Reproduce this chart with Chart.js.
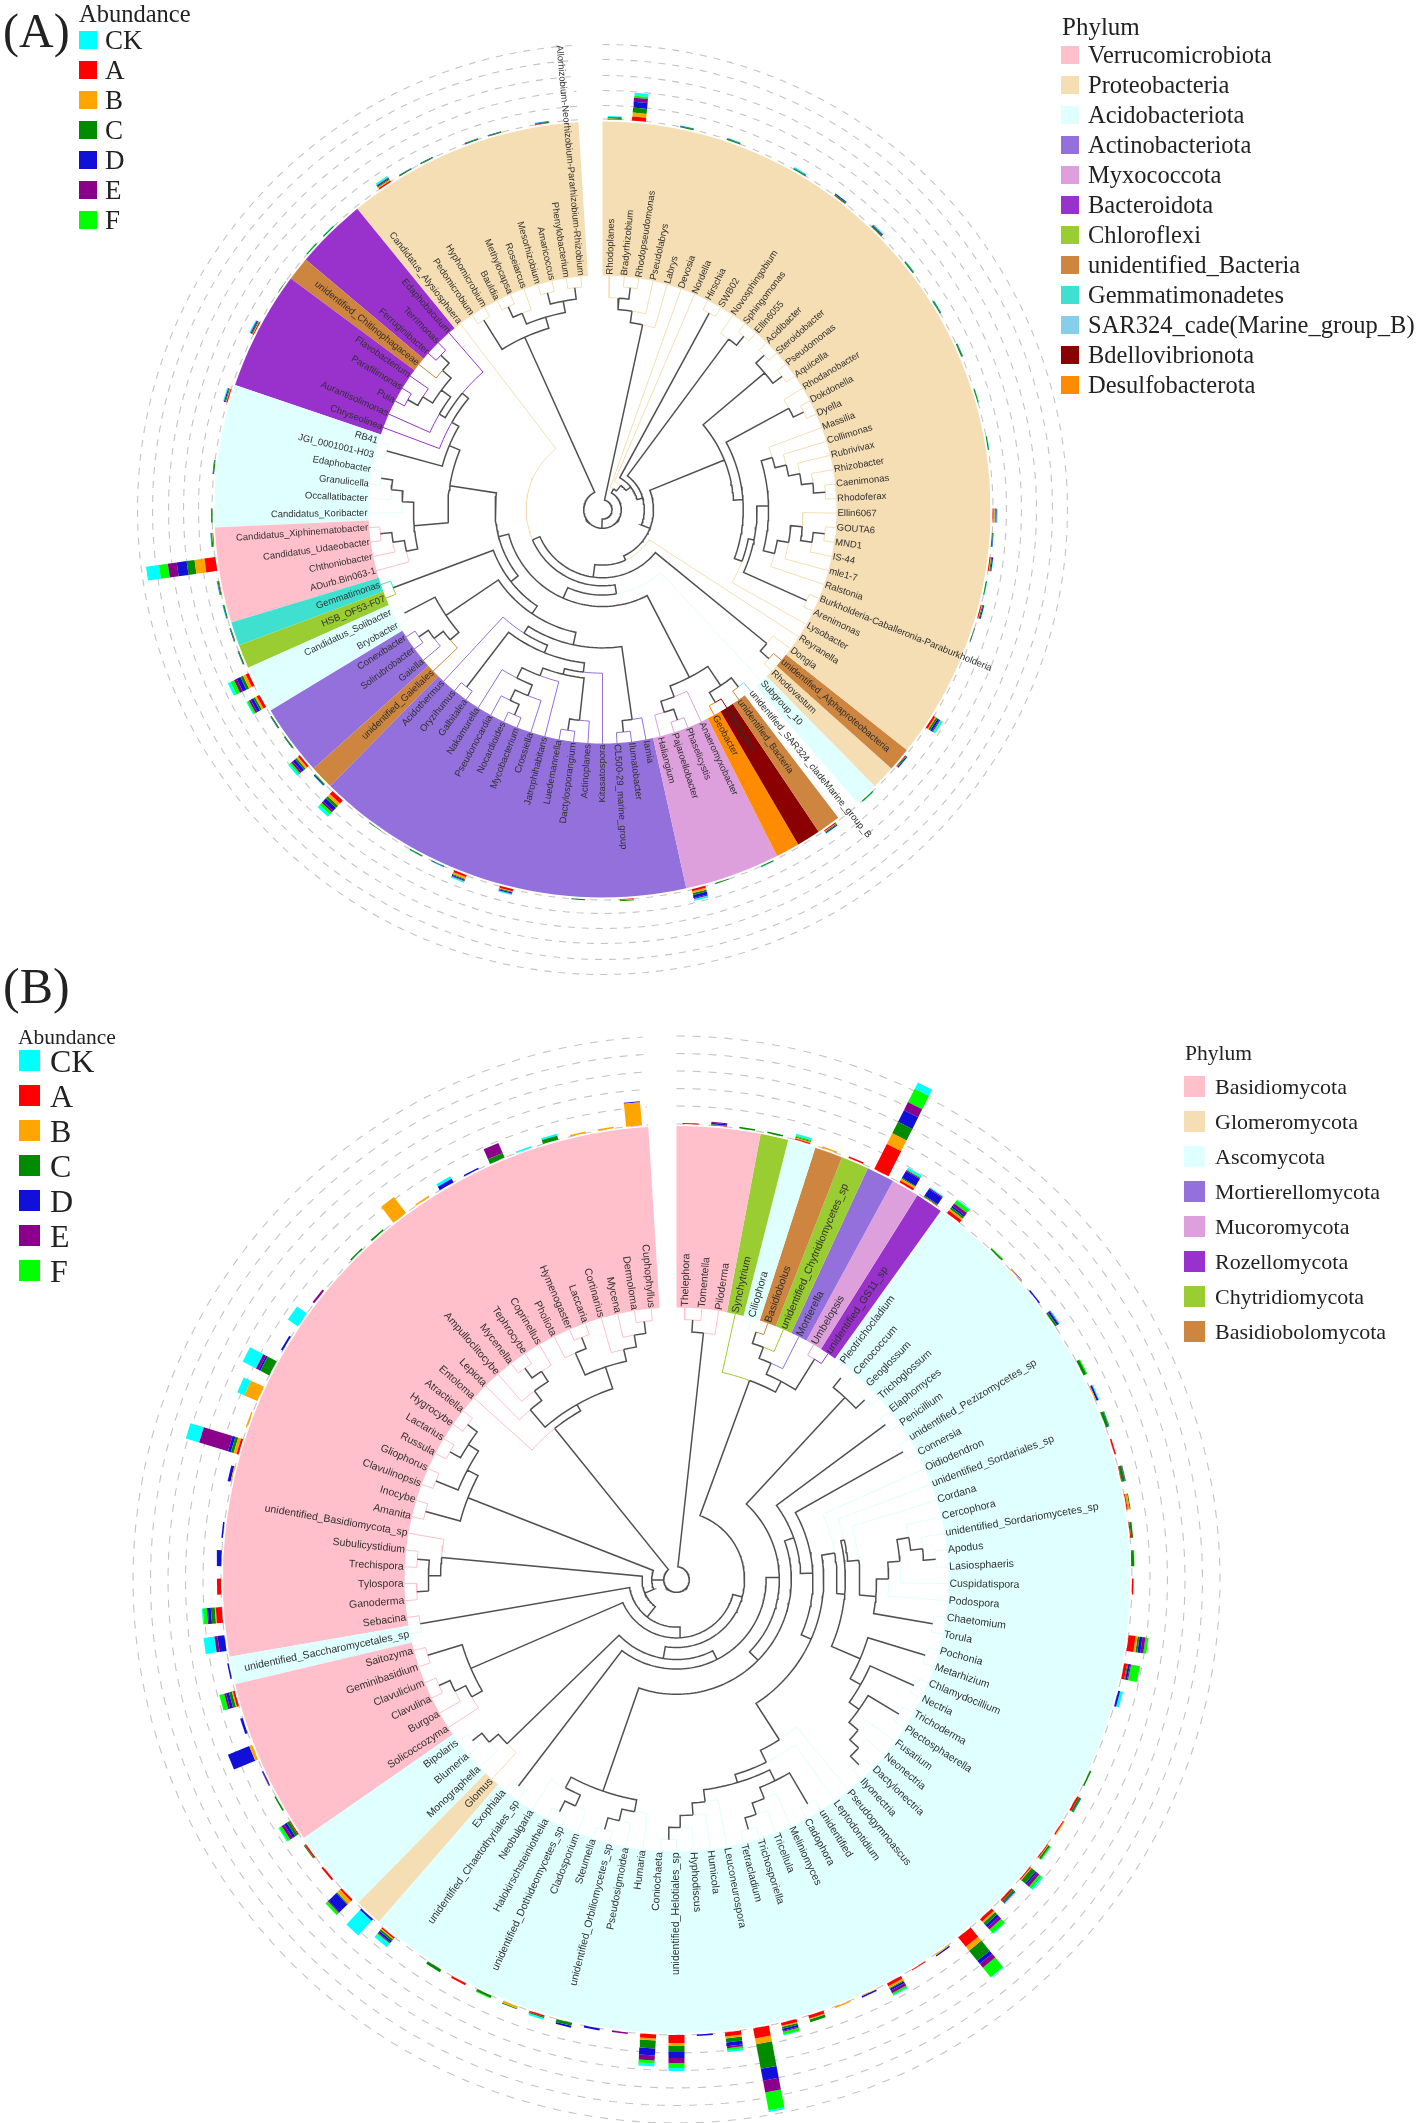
<!DOCTYPE html>
<html>
<head>
<meta charset="utf-8">
<title>Circular phylogenetic trees</title>
<script src="https://cdn.jsdelivr.net/npm/chart.js@4/dist/chart.umd.min.js"></script>
<style>
    body { margin: 0; background: #fff; width: 1418px; height: 2123px; position: relative; overflow: hidden; }
    canvas { position: absolute; left: 0; filter: blur(0.4px); }
    .txt { position: absolute; font-family: "Liberation Serif", serif; color: #222; white-space: nowrap; line-height: 1; }
    .box { position: absolute; }
</style>
</head>
<body>
<canvas id="chartA" width="1418" height="1020" style="top:0"></canvas>
<canvas id="chartB" width="1418" height="1103" style="top:1020px"></canvas>
<script>
const treatments = ['CK', 'A', 'B', 'C', 'D', 'E', 'F'];
const treatmentColors = ['#00ffff', '#ff0000', '#ffa500', '#008b00', '#1010d8', '#8b008b', '#00ff00'];
// bars stack outward in this order, rows below are [leaf, A, B, C, D, E, F, CK]
const stackOrder = [1, 2, 3, 4, 5, 6, 0];

const aPhylumNames = ['Verrucomicrobiota', 'Proteobacteria', 'Acidobacteriota', 'Actinobacteriota', 'Myxococcota', 'Bacteroidota',
    'Chloroflexi', 'unidentified_Bacteria', 'Gemmatimonadetes', 'SAR324_cade(Marine_group_B)', 'Bdellovibrionota', 'Desulfobacterota'];
const aPhylumColors = ['#ffc0cb', '#f5deb3', '#e0ffff', '#9370db', '#dda0dd', '#9932cc', '#9acd32', '#cd853f', '#40e0d0', '#87ceeb', '#8b0000', '#ff8c00'];
const bPhylumNames = ['Basidiomycota', 'Glomeromycota', 'Ascomycota', 'Mortierellomycota', 'Mucoromycota', 'Rozellomycota', 'Chytridiomycota', 'Basidiobolomycota'];
const bPhylumColors = ['#ffc0cb', '#f5deb3', '#e0ffff', '#9370db', '#dda0dd', '#9932cc', '#9acd32', '#cd853f'];

const aLeaves = ['Rhodoplanes', 'Bradyrhizobium', 'Rhodopseudomonas', 'Pseudolabrys', 'Labrys', 'Devosia', 'Nordella', 'Hirschia', 'SWB02',
    'Novosphingobium', 'Sphingomonas', 'Ellin6055', 'Acidibacter', 'Steroidobacter', 'Pseudomonas', 'Aquicella', 'Rhodanobacter', 'Dokdonella',
    'Dyella', 'Massilia', 'Collimonas', 'Rubrivivax', 'Rhizobacter', 'Caenimonas', 'Rhodoferax', 'Ellin6067', 'GOUTA6', 'MND1', 'IS-44', 'mle1-7',
    'Ralstonia', 'Burkholderia-Caballeronia-Paraburkholderia', 'Arenimonas', 'Lysobacter', 'Reyranella', 'Dongia', 'unidentified_Alphaproteobacteria',
    'Rhodovastum', 'Subgroup_10', 'unidentified_SAR324_cladeMarine_group_B', 'unidentified_Bacteria', 'Bdellovibrio', 'Geobacter', 'Anaeromyxobacter',
    'Phaselicystis', 'Pajaroellobacter', 'Haliangium', 'Iamia', 'Ilumatobacter', 'CL500-29_marine_group', 'Kitasatospora', 'Actinoplanes',
    'Dactylosporangium', 'Luedemannella', 'Jatrophihabitans', 'Crossiella', 'Mycobacterium', 'Nocardioides', 'Pseudonocardia', 'Nakamurella',
    'Galbitalea', 'Oryzihumus', 'Acidothermus', 'unidentified_Gaiellales', 'Gaiella', 'Solirubrobacter', 'Conexibacter', 'Bryobacter',
    'Candidatus_Solibacter', 'HSB_OF53-F07', 'Gemmatimonas', 'ADurb.Bin063-1', 'Chthoniobacter', 'Candidatus_Udaeobacter',
    'Candidatus_Xiphinematobacter', 'Candidatus_Koribacter', 'Occallatibacter', 'Granulicella', 'Edaphobacter', 'JGI_0001001-H03', 'RB41',
    'Chryseolinea', 'Aurantisolimonas', 'Puia', 'Parafilimonas', 'Flavobacterium', 'unidentified_Chitinophagaceae', 'Ferruginibacter', 'Terrimonas',
    'Edaphobaculum', 'Candidatus_Alysiosphaera', 'Pedomicrobium', 'Hyphomicrobium', 'Bauldia', 'Methylocapsa', 'Roseiarcus', 'Mesorhizobium',
    'Amaricoccus', 'Phenylobacterium', 'Allorhizobium-Neorhizobium-Pararhizobium-Rhizobium'];
// [number of leaves, phylum index] going clockwise from the top
const aRuns = [[36, 1], [1, 7], [1, 1], [1, 2], [1, 9], [1, 7], [1, 10], [1, 11], [4, 4], [16, 3], [1, 7], [3, 3], [2, 2], [1, 6], [1, 8], [4, 0], [6, 2], [5, 5], [1, 7], [3, 5], [10, 1]];
const aBars = [[1, .5, .5, 1, .5, 0, 0, 1], [2, 4, 4, 5, 6, 4, 2, 3], [4, 0, 0, 1, .5, 0, 0, .5], [6, 0, 0, 1, .5, 0, 0, .5], [9, 0, 0, 1, .5, 0, 0, 1],
    [11, .5, 0, 1, 1, 0, 0, .5], [13, .5, 0, 1, 1, 0, 0, 1], [15, 0, 0, 1, .5, 0, 0, .5], [17, 0, 0, 1, .5, 0, 0, .5], [19, 0, 0, 1, .5, 0, 0, .5],
    [21, 0, 0, 1, 0, 0, 0, .5], [23, 0, 0, 1, 0, 0, 0, .5], [26, 1, 1, 1, 1, 0, 0, 1], [27, 0, 0, 1, .5, 0, 0, .5], [28, 1, .5, 1, 1, 0, 0, .5],
    [29, 0, 0, 1, 0, 0, 0, .5], [30, 1, .5, 1, 1, 0, 0, .5], [31, 0, 0, .5, .5, 0, 0, 0], [35, 2, 1, 2, 2, 1, 1, 2], [37, .5, 0, 1, 1, 0, 0, .5],
    [39, 0, 0, 1, 0, 0, 0, .5], [41, 1, .5, 1, 1, 0, 0, .5], [44, 0, 0, 1, 0, 0, 0, .5], [46, 0, 0, 1, 0, 0, 0, 0], [47, 2, 2, 2, 3, 1, 0, 2],
    [50, .5, .5, 1, 0, 0, 0, 0], [52, 0, 0, 1, 0, 0, 0, 0], [55, 2, .5, 1, 1, .5, 0, 1], [57, 2, 2, 1, 1, .5, .5, 1], [58, 0, 0, .5, .5, 0, 0, .5],
    [59, 0, 0, 1, 0, 0, 0, .5], [61, 0, 0, .5, 0, 0, 0, 0], [63, 4, 3, 3, 4, 2, 3, 3], [64, 0, .5, 1, 1, 0, 0, .5], [65, 2, 2, 2, 3, 2, 2, 2],
    [66, 0, 0, 1, .5, 0, 0, 0], [67, 0, 0, 1, .5, 0, 0, 0], [68, 3, 2, 2, 3, 2, 2, 1], [69, 3, 3, 3, 4, 3, 4, 3], [70, 0, 0, 1, .5, 0, 0, 0],
    [71, 0, 0, 1, .5, 0, 0, 0], [72, 0, 0, 1, .5, 0, 0, .5], [73, .5, 0, 1, .5, 0, 0, .5], [74, 11, 10, 8, 10, 9, 9, 13], [75, .5, .5, 1, .5, 0, 0, .5],
    [76, 0, 0, 1, .5, 0, 0, 0], [78, 0, 0, 1, .5, 0, 0, 0], [81, 1, .5, 1, 1, 0, 0, 1], [84, 1, .5, 1, 1, .5, 0, 1], [86, 0, 0, .5, 0, 0, 0, 0],
    [88, 0, 0, 1, 0, 0, 0, .5], [89, 0, 0, 1, 0, 0, 0, .5], [92, 1.5, 1, 1, 1, .5, .5, 1.5], [93, 0, 0, 1, .5, 0, 0, 0], [94, 0, 0, 1, .5, 0, 0, 0],
    [96, 0, 0, 1, .5, 0, 0, 0], [97, 0, 0, 1, .5, 0, 0, 0], [99, .5, 0, 1, .5, 0, 0, .5]];

const bLeaves = ['Thelephora', 'Tomentella', 'Piloderma', 'Synchytrium', 'Ciliophora', 'Basidiobolus', 'unidentified_Chytridiomycetes_sp', 'Mortierella',
    'Umbelopsis', 'unidentified_GS11_sp', 'Pleotrichocladium', 'Cenococcum', 'Geoglossum', 'Trichoglossum', 'Elaphomyces', 'Penicillium',
    'unidentified_Pezizomycetes_sp', 'Connersia', 'Oidiodendron', 'unidentified_Sordariales_sp', 'Cordana', 'Cercophora', 'unidentified_Sordariomycetes_sp',
    'Apodus', 'Lasiosphaeris', 'Cuspidatispora', 'Podospora', 'Chaetomium', 'Torula', 'Pochonia', 'Metarhizium', 'Chlamydocillium', 'Nectria', 'Trichoderma',
    'Plectosphaerella', 'Fusarium', 'Neonectria', 'Dactylonectria', 'Ilyonectria', 'Pseudogymnoascus', 'Leptodontidium', 'unidentified', 'Cadophora',
    'Meliniomyces', 'Tricellula', 'Trichosporiella', 'Tetracladium', 'Leuconeurospora', 'Humicola', 'Hyphodiscus', 'unidentified_Helotiales_sp', 'Coniochaeta',
    'Humaria', 'Pseudosigmoidea', 'unidentified_Orbiliomycetes_sp', 'Steumella', 'Cladosporium', 'unidentified_Dothideomycetes_sp', 'Halokirschsteiniothelia',
    'Neobulgaria', 'unidentified_Chaetothyriales_sp', 'Exophiala', 'Glomus', 'Monographella', 'Blumeria', 'Bipolaris', 'Solicoccozyma', 'Burgoa', 'Clavulina',
    'Clavulicium', 'Geminibasidium', 'Saitozyma', 'unidentified_Saccharomycetales_sp', 'Sebacina', 'Ganoderma', 'Tylospora', 'Trechispora', 'Subulicystidium',
    'unidentified_Basidiomycota_sp', 'Amanita', 'Inocybe', 'Clavulinopsis', 'Gliophorus', 'Russula', 'Lactarius', 'Hygrocybe', 'Atractiella', 'Entoloma', 'Lepiota',
    'Ampulloclitocybe', 'Mycenella', 'Tephrocybe', 'Coprinellus', 'Pholiota', 'Hymenogaster', 'Laccaria', 'Cortinarius', 'Mycena', 'Dermoloma', 'Cuphophyllus'];
const bRuns = [[3, 0], [1, 6], [1, 2], [1, 7], [1, 6], [1, 3], [1, 4], [1, 5], [52, 2], [1, 1], [3, 2], [6, 0], [1, 2], [27, 0]];
const bBars = [[1, 1, 0, 0, 0, 0, 0, 0], [2, .5, 0, .5, 1.5, 1, 0, 0], [3, 0, 0, 1.5, 0, 0, 0, 0], [4, 0, 0, 1.5, 0, 0, 0, 0], [5, 1, 1, 1, 0, 0, 1, 2],
    [6, 0, 1.5, 0, 0, 0, 0, 0], [7, 1.5, 0, 0, 0, 0, 0, 0], [8, 28, 12, 13, 13, 9, 15, 7], [9, 2, 2, 1, 8, 1, 1, 2], [10, .5, 0, 1, 8, 1, 0, 1],
    [11, 3, 2, 2, 2, 3, 4, 1], [13, 0, 0, 1.5, 0, 0, .5, 0], [14, 0, 1, 0, .5, 0, 0, 0], [15, 0, 0, 0, 1.5, 0, 0, 0], [16, 0, 0, 2, 2, .5, 0, 1],
    [18, 0, 0, 3, 0, 0, 1, 0], [19, 0, 1, 0, 2, 0, 0, 1], [20, 0, 0, 3, .5, 0, .5, 0], [21, 1.5, 0, 0, 0, 0, 0, 0], [22, .5, 0, 3, .5, .5, 0, 0],
    [23, 1, 2, 1, 0, 0, 0, 0], [24, 1, 0, 2, 0, 0, 0, 0], [25, 0, 0, 2.5, 0, 0, .5, 0], [26, 1.5, 0, 0, 0, 0, 0, 0], [28, 7, 2, 2, 3, 3, 3, 0],
    [29, 3, 0, 1, 2, 1, 9, 0], [30, 0, 0, 0, 2, 0, 0, 3], [33, 0, 0, 1.5, 0, 0, 0, 0], [34, 2, 0, 2, .5, 0, 0, .5], [35, 1, 1, 0, 0, 0, 0, 0],
    [36, 1, .5, 2, 0, 0, 1, .5], [37, 1, 1, 5, 2, 3, 3, 2], [38, 2, 0, 2, 1, 0, 0, 1], [39, 3, 2, 3, 3, 3, 5, 1], [40, 12, 5, 13, 4, 5, 12, 1],
    [41, 0, 1, 0, 1.5, 0, 0, 0], [42, 1, 0, 0, 0, 0, 0, 0], [43, 3, 2, 1, 2, 3, 2, 1], [44, 0, .5, 0, 1.5, 0, 0, 0], [45, 0, 1.5, 0, 0, 0, 0, 0],
    [46, 3, 1, 3, 0, 0, 0, 0], [47, 3, 1, 2, 2, 1, 3, 1], [48, 10, 6, 25, 12, 12, 18, 2], [49, 4, 2, 4, 4, 2, 2, 2], [50, 0, 0, 0, 1.5, 0, 0, 0],
    [51, 8, 3, 6, 6, 5, 5, 3], [52, 4, 2, 8, 7, 5, 3, 3], [53, 0, 0, 0, 0, 1.5, 0, 0], [54, 0, 0, 0, 2, 0, 0, 0], [55, 0, 0, 3, 2, 0, 0, 0],
    [56, 1.5, 0, 1, 0, 0, 0, 2], [57, 0, 2, 1, 0, 0, 0, 0], [58, 0, 0, 2, 0, 0, 1, 0], [59, 2, 0, 0, 0, 0, 0, 0], [60, 0, 0, 3, 0, 0, 0, 0],
    [62, 1.5, 1, 2, 2, 1, 1, 4], [63, 0, 0, 0, 2, 0, 0, 20], [64, 2, 4, 1, 11, 1, 3, 0], [65, 2, 0, 0, 0, 0, 0, 0], [66, 1.5, 0, 1, 0, 0, 0, 0],
    [67, 1, 0, 3, 3, 3, 3, 1], [68, 0, 0, 1.5, 0, 0, 0, 0], [69, 0, 0, 0, 1, .5, 0, 0], [70, 0, 3, 0, 23, 0, 0, 0], [71, 0, 0, 0, 2.5, 0, 0, 0],
    [72, 2, 1, 3, 3, 2, 5, 0], [73, 0, 0, 0, 1.5, 0, 0, 0], [74, 0, 0, 0, 7, 3, 0, 11], [75, 6, 1, 4, 3, 1, 4, 1], [76, 4, 0, 0, 0, 0, 0, 0],
    [77, 0, 0, 0, 5, 0, 0, 0], [78, 0, 0, 0, 1.5, 0, 0, 0], [80, 0, 1, 0, 3, 0, 0, 0], [81, 2, 3, 3, 3, 30, 0, 14], [82, 0, 1.5, 0, 0, 0, 0, 0],
    [83, 0, 14, 0, 0, 0, 0, 8], [84, 0, 0, 10, 2, 3, 0, 15], [85, 0, 0, 0, 2, 0, 0, 0], [86, 0, 0, 0, 0, 0, 0, 12], [87, 0, 0, 0, 0, 2, 0, 0],
    [89, 0, 0, 1.5, 0, 0, 0, 0], [90, 0, 0, 1.5, 0, 0, 0, 0], [91, 0, 20, 0, 0, 0, 0, 0], [92, 0, 1.5, 0, 0, 0, 0, 0], [93, 0, 0, 0, 4, 0, 0, 3],
    [94, 0, 0, 0, 1.5, 0, 0, 0], [95, 0, 0, 5, 0, 11, 0, 0], [96, 0, 0, 0, 0, 0, 0, 1.5], [97, 0, 0, 4, 0, 0, 0, 2], [98, 0, 1.5, 0, 0, 0, 0, 0],
    [99, 0, 1.5, 0, 0, 0, 0, 0], [100, 0, 23, 0, 1, 0, 0, 0]];

// a clade with its level set by hand, otherwise level = deepest child + 1
function lv(level, ...kids) { kids.level = level; return kids; }

// tree A, leaves are 1-based positions in aLeaves
const aDM = [[[40, 41], [42, 43]], [44, [[45, 46], 47]]];
const aActino = lv(8.4, [48, [49, 50]], lv(7.7, lv(7, lv(6.2, 51, lv(5.7, [52, [53, 54]], [55, [[56, [[57, 58], 59]], 60]])), [61, 62]), 63));
const aGaiella = [[64, [65, [66, 67]]], [68, 69]];
const aLeft = lv(7, [[72, [73, [74, 75]]], [76, [77, [78, 79]]]],
    lv(6, [80, 81], lv(5.3, 82, lv(4.6, [83, [[[84, 85], 86], [87, [88, 89]]]], 90))));
const aBurk = lv(7.5, [[[20, [21, [22, [23, [24, 25]]]]], [[[26, [[27, 28], 29]], 30], 31]], [32, 33]], 34);
const aGamma = lv(9, [[13, 14], [15, 16]], lv(8.2, [17, [18, 19]], aBurk));
const aCore = lv(13.8, lv(13, 39, lv(12, aDM, lv(11.1, lv(10.3, lv(9.5, aActino, aGaiella), [70, 71]), aLeft))), 91);
const aTree = lv(19.6, [[[1, [2, 3]], 4], 5],
    lv(18.8, lv(18.4, 6, lv(17.8, 7, lv(17.3, [8, 9], lv(16.8, [10, [11, 12]],
        lv(16, aGamma, lv(15.6, 35, lv(14.5, [36, [37, 38]], aCore))))))),
        [[92, 93], [[[94, 95], 96], [[97, 98], [99, 100]]]]));

// tree B, leaves are 1-based positions in bLeaves
const bSord = lv(9.3, 19, lv(8.6, lv(8.3, 20, lv(7.4, 21, [[[[22, [23, [24, 25]]], 26], 27], [28, 29]])),
    [[30, 31], [[32, 33], [[34, 35], [36, [37, [38, 39]]]]]]));
const bLeot = lv(6.8, 40, lv(5.7, 41, [[[42, 43], [44, [45, [46, 47]]]], [48, [49, [50, [51, 52]]]]]));
const bAsco = lv(13.1, lv(12.3, [15, 16], lv(11.3, [17, 18], lv(10.4, bSord, bLeot))), [[53, [54, [55, 56]]], [[57, [58, 59]], 60]]);
const bAgar = lv(6.5, 88, lv(5.9, [89, [90, [[91, 92], 93]]], [[94, [95, 96]], [97, [98, [99, 100]]]]));
const bTree = lv(21.6, [[1, 2], 3],
    lv(20.6, lv(19.8, lv(18.7, lv(17.8, lv(17, [4, [[[[5, 6], 7], 8], [9, 10]]],
        lv(16, lv(15.2, lv(14.1, [[11, 12], [13, 14]], bAsco), [61, 62]), [63, [64, [65, 66]]])),
        [[67, [68, [69, 70]]], [71, 72]]), [73, 74]), [[[75, 76], [77, 78]], 79]),
        [[80, 81], [[82, 83], [[84, 85], [86, 87]]]]),
    bAgar);

const SLOTS = 101;          // 100 leaves and one empty slot at the top
const TREE_COLOR = '#505050';

function polar(r, y) {
    const t = y / SLOTS * 2 * Math.PI;
    return {x: r * Math.sin(t), y: r * Math.cos(t)};
}

function arc(r, y0, y1) {
    const n = Math.max(1, Math.ceil(Math.abs(y1 - y0) * 2));
    const out = [];
    for (let i = 0; i <= n; i++) out.push(polar(r, y0 + (y1 - y0) * i / n));
    return out;
}

function expandRuns(runs) {
    const out = [];
    runs.forEach(([n, p]) => { for (let i = 0; i < n; i++) out.push(p); });
    return out;
}

function layoutTree(node, geo) {
    if (typeof node === 'number') return {leaf: node, y: node - 0.5, h: 0, r: geo.tip, kids: []};
    const kids = node.map((k) => layoutTree(k, geo));
    const h = node.level !== undefined ? node.level : Math.max(...kids.map((k) => k.h)) + 1;
    const y = kids.reduce((s, k) => s + k.y, 0) / kids.length;
    return {y, h, r: geo.tip - geo.step * h, kids};
}

function collectEdges(node, phyla, colors, groups) {
    node.kids.forEach((kid) => {
        const color = kid.leaf ? colors[phyla[kid.leaf - 1]] : TREE_COLOR;
        if (!groups[color]) groups[color] = [];
        groups[color].push(polar(kid.r, kid.y), ...arc(node.r, kid.y, node.y), {x: NaN, y: NaN});
        collectEdges(kid, phyla, colors, groups);
    });
}

function lineSet(data, color, width, order, extra) {
    return Object.assign({data, showLine: true, pointRadius: 0, borderColor: color, borderWidth: width,
        tension: 0, spanGaps: false, fill: false, order, clip: false}, extra || {});
}

function shapeSet(data, color, order) {
    return lineSet(data, 'rgba(0,0,0,0)', 0, order, {fill: 'shape', backgroundColor: color});
}

// one rectangle of a stacked bar, same width in pixels whatever the radius
function barPiece(r0, r1, y, width) {
    const t = y / SLOTS * 2 * Math.PI;
    const dx = Math.cos(t) * width / 2, dy = -Math.sin(t) * width / 2;
    const a = polar(r0, y), b = polar(r1, y);
    return [{x: a.x - dx, y: a.y - dy}, {x: b.x - dx, y: b.y - dy}, {x: b.x + dx, y: b.y + dy}, {x: a.x + dx, y: a.y + dy}, {x: a.x - dx, y: a.y - dy}];
}

function buildDatasets(p) {
    const phyla = expandRuns(p.runs);
    const sets = [];
    // sectors
    let start = 0;
    p.runs.forEach(([n, ph]) => {
        if (!p.noFill.includes(ph)) {
            const shape = arc(p.geo.outer, start, start + n).concat(arc(p.geo.inner, start + n, start));
            shape.push(shape[0]);
            sets.push(shapeSet(shape, p.colors[ph], 6));
        }
        start += n;
    });
    // dashed guide circles
    p.geo.rings.forEach((r) => {
        sets.push(lineSet(arc(r, 0, SLOTS - 1), '#c4c4c4', 1.1, 5, {borderDash: p.geo.dash}));
    });
    // tree, pale tips first so the dark stems stay on top
    const groups = {};
    collectEdges(layoutTree(p.tree, p.geo), phyla, p.colors, groups);
    Object.keys(groups).forEach((c) => {
        sets.push(lineSet(groups[c], c, c === TREE_COLOR ? 1.5 : 1, c === TREE_COLOR ? 3 : 4));
    });
    // abundance bars
    p.bars.forEach((row) => {
        let r = p.geo.outer + 2;
        stackOrder.forEach((t, i) => {
            const v = row[i + 1];
            if (v > 0) {
                sets.push(shapeSet(barPiece(r, r + v, row[0] - 0.5, p.geo.barWidth), treatmentColors[t], 2));
                r += v;
            }
        });
    });
    return sets;
}

const leafLabels = {
    id: 'leafLabels',
    afterDatasetsDraw(chart, args, opts) {
        const {ctx, scales: {x, y}} = chart;
        ctx.save();
        ctx.font = opts.size + 'px "Liberation Sans", Arial, sans-serif';
        ctx.fillStyle = '#303030';
        ctx.textBaseline = 'middle';
        opts.names.forEach((name, i) => {
            const slot = i + 0.5;
            const deg = slot / SLOTS * 360;
            const pos = polar(opts.r, slot);
            ctx.save();
            ctx.translate(x.getPixelForValue(pos.x), y.getPixelForValue(pos.y));
            if (deg < 180) {
                ctx.rotate((deg - 90) * Math.PI / 180);
                ctx.textAlign = 'left';
            } else {
                ctx.rotate((deg + 90) * Math.PI / 180);
                ctx.textAlign = 'right';
            }
            ctx.fillText(name, 0, 0);
            ctx.restore();
        });
        ctx.restore();
    }
};

function makeChart(id, p) {
    return new Chart(document.getElementById(id), {
        type: 'scatter',
        data: {datasets: buildDatasets(p)},
        plugins: [leafLabels],
        options: {
            responsive: false,
            animation: false,
            events: [],
            layout: {padding: 0},
            plugins: {
                legend: {display: false},
                tooltip: {enabled: false},
                leafLabels: {names: p.names, r: p.geo.inner + 1, size: p.geo.font}
            },
            scales: {
                x: {type: 'linear', display: false, min: -p.cx, max: 1418 - p.cx},
                y: {type: 'linear', display: false, min: p.cy - p.h, max: p.cy}
            }
        }
    });
}

makeChart('chartA', {
    names: aLeaves, runs: aRuns, colors: aPhylumColors, tree: aTree, bars: aBars, noFill: [9],
    cx: 602.5, cy: 509.5, h: 1020,
    geo: {tip: 235, step: 11.5, inner: 234, outer: 388, rings: [390.5, 404, 419, 434, 450, 465], dash: [7, 7], barWidth: 14, font: 9.5}
});
makeChart('chartB', {
    names: bLeaves, runs: bRuns, colors: bPhylumColors, tree: bTree, bars: bBars, noFill: [],
    cx: 676.5, cy: 559.5, h: 1103,
    geo: {tip: 272, step: 12, inner: 272, outer: 453.5, rings: [455.5, 473.5, 491, 508.5, 526, 543.5], dash: [8, 8], barWidth: 16, font: 10.5}
});

// legends
function addText(text, x, y, size) {
    const el = document.createElement('div');
    el.className = 'txt';
    el.textContent = text;
    el.style.left = x + 'px';
    el.style.top = y + 'px';
    el.style.fontSize = size + 'px';
    document.body.appendChild(el);
}

function addLegend(title, names, colors, l) {
    addText(title, l.titleX, l.titleY, l.titleSize);
    names.forEach((name, i) => {
        const box = document.createElement('div');
        box.className = 'box';
        box.style.cssText = 'left:' + l.boxX + 'px;top:' + (l.boxY + i * l.gap) + 'px;width:' + l.box + 'px;height:' + l.box + 'px;background:' + colors[i];
        document.body.appendChild(box);
        addText(name, l.textX, l.boxY + i * l.gap + (l.box - l.size) / 2, l.size);
    });
}

addText('(A)', 3, 7, 48);
addText('(B)', 3, 961, 50);
addLegend('Abundance', treatments, treatmentColors, {titleX: 79, titleY: 2, titleSize: 24.5, boxX: 79, boxY: 31, box: 18, gap: 30, textX: 105, size: 27});
addLegend('Phylum', aPhylumNames, aPhylumColors, {titleX: 1062, titleY: 14, titleSize: 25, boxX: 1061, boxY: 46, box: 18, gap: 30, textX: 1088, size: 24.5});
addLegend('Abundance', treatments, treatmentColors, {titleX: 18, titleY: 1027, titleSize: 21.5, boxX: 19, boxY: 1050, box: 21, gap: 35, textX: 50, size: 32});
addLegend('Phylum', bPhylumNames, bPhylumColors, {titleX: 1185, titleY: 1043, titleSize: 21.5, boxX: 1184, boxY: 1076, box: 21, gap: 35, textX: 1215, size: 22});
</script>
</body>
</html>
